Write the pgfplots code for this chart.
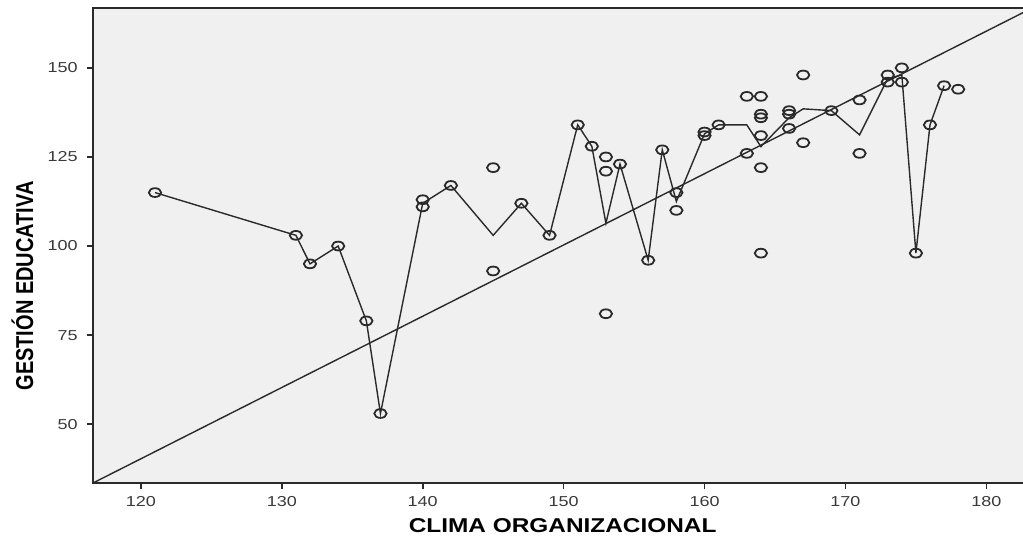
\documentclass[border=0pt]{standalone}
\usepackage{fontspec}
\setmainfont{Liberation Sans}
\usepackage{pgfplots}
\pgfplotsset{compat=1.18}

\definecolor{panel}{HTML}{F0F0F0}
\definecolor{ink}{HTML}{2A2A2A}
\definecolor{ticktext}{HTML}{3A3A3A}

\begin{document}
\begin{tikzpicture}
\begin{axis}[
  name=ax,
  width=465pt, height=237.5pt, scale only axis,
  xmin=116.6, xmax=182.6, ymin=33.5, ymax=166.8,
  xtick={120,130,...,180}, ytick={50,75,...,150},
  axis background/.style={fill=panel},
  axis line style={draw=none},
  tick align=outside, major tick length=3.2pt,
  xtick pos=left, ytick pos=left,
  tick style={ink, line width=0.8pt},
  /pgf/number format/assume math mode=true,
  tick label style={font=\fontsize{7.2}{8.5}\selectfont, text=ticktext, xscale=1.25},
  xlabel={CLIMA ORGANIZACIONAL},
  ylabel={GESTIÓN EDUCATIVA},
  every axis x label/.style={at={(rel axis cs:0.505,-0.0905)}, anchor=center,
    font=\bfseries\fontsize{10}{12}\selectfont, xscale=1.22},
  every axis y label/.style={at={(rel axis cs:-0.0758,0.415)}, anchor=center,
    rotate=90, yscale=1.22, font=\bfseries\fontsize{10}{12}\selectfont},
]
% total (fit) line
\addplot[ink, line width=0.7pt] coordinates {(116.6,33.5) (182.6,165.5)};

% line through the mean of each score
\addplot[ink, line width=0.7pt] coordinates {
  (121,115) (131,103) (132,95) (134,100) (136,79) (137,53) (140,112)
  (142,117) (145,103) (147,112) (149,103) (151,134) (152,128) (153,106.4)
  (154,123) (156,96) (157,127) (158,112.5) (160,131.5) (161,134) (163,134)
  (164,127.9) (166,136) (167,138.5) (169,138) (171,131.2) (173,147)
  (174,148) (175,98) (176,134) (177,145)
};

% individual cases
\addplot[only marks, mark=o, mark size=2.2pt,
  mark options={ink, line width=0.9pt, xscale=1.4}] coordinates {
  (121,115) (131,103) (132,95) (134,100) (136,79) (137,53)
  (140,113) (140,111) (142,117) (145,122) (145,93) (147,112) (149,103)
  (151,134) (152,128) (153,125) (153,121) (153,81) (154,123) (156,96)
  (157,127) (158,115) (158,110) (160,132) (160,131) (161,134)
  (163,142) (163,126) (164,142) (164,137) (164,136) (164,131) (164,122)
  (164,98) (166,138) (166,137) (166,133) (167,148) (167,129) (169,138)
  (171,141) (171,126) (173,148) (173,146) (174,150) (174,146) (175,98)
  (176,134) (177,145) (178,144)
};
\end{axis}
% frame: left, top and bottom edges
\draw[ink, line width=0.9pt] (ax.north east) -- (ax.north west)
  -- (ax.south west) -- (ax.south east);
\pgfresetboundingbox
\path[use as bounding box] ([xshift=-46.5pt,yshift=-26.5pt]ax.south west)
  rectangle ([yshift=4pt]ax.north east);
\end{tikzpicture}
\end{document}
